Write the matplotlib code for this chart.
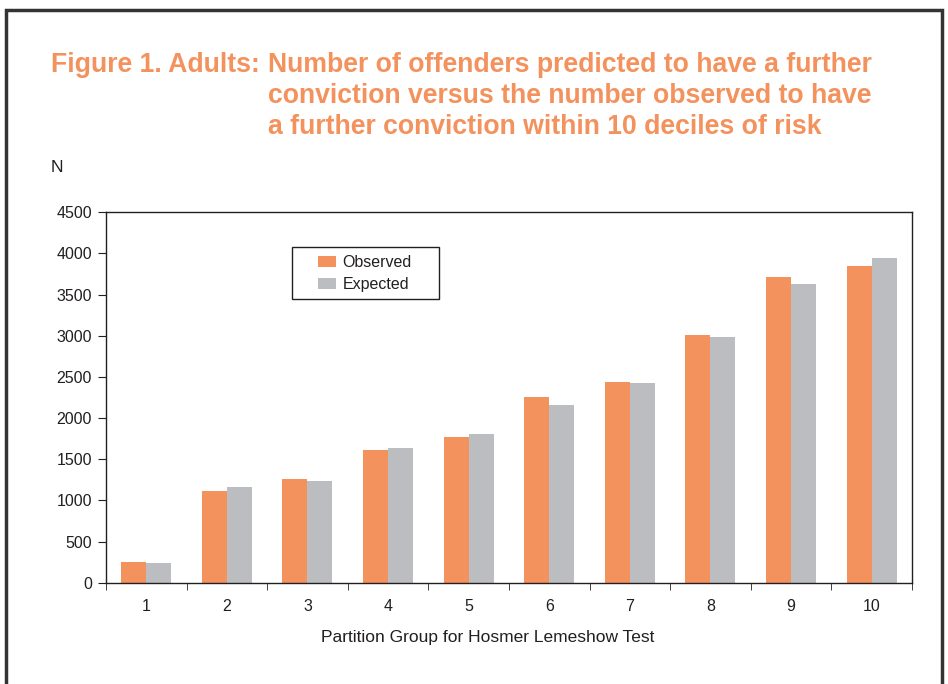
import numpy as np
import matplotlib.pyplot as plt
from matplotlib.patches import Rectangle

groups = ['1', '2', '3', '4', '5', '6', '7', '8', '9', '10']
observed = [251, 1110, 1260, 1608, 1774, 2256, 2438, 3009, 3718, 3852]
expected = [243, 1162, 1235, 1632, 1806, 2155, 2426, 2985, 3633, 3949]
yticks = [0, 500, 1000, 1500, 2000, 2500, 3000, 3500, 4000, 4500]

orange = '#F4925E'
grey = '#BCBDC0'
ink = '#231F20'

plt.rcParams['font.family'] = ['Liberation Sans', 'DejaVu Sans']

fig = plt.figure(figsize=(9.48, 6.84), dpi=100)
ax = fig.add_axes([0.1118, 0.148, 0.8502, 0.5416])

x = np.arange(len(groups))
w = 0.31
ax.bar(x - w / 2, observed, w, color=orange, label='Observed')
ax.bar(x + w / 2, expected, w, color=grey, label='Expected')

ax.set_xlim(-0.5, len(groups) - 0.5)
ax.set_ylim(0, 4500)
ax.set_yticks(yticks)
ax.set_yticklabels([str(v) for v in yticks], fontsize=11.5, color=ink)
ax.set_xticks(x)
ax.set_xticklabels(groups, fontsize=11.5, color=ink)
ax.set_xticks(np.arange(len(groups) + 1) - 0.5, minor=True)
ax.tick_params(axis='x', which='major', length=0, pad=12)
ax.tick_params(axis='x', which='minor', length=5, direction='out', color=ink)
ax.tick_params(axis='y', length=6, direction='out', color=ink, pad=4)
for s in ax.spines.values():
    s.set_color(ink)
    s.set_linewidth(1.0)

ax.set_xlabel('Partition Group for Hosmer Lemeshow Test', fontsize=12.5,
              color=ink)
ax.xaxis.set_label_coords(0.474, -0.127)

# legend: entries without frame, box drawn separately
leg = ax.legend(loc='upper left', bbox_to_anchor=(0.263, 0.885), fontsize=11.5,
                frameon=False, handlelength=1.15, handleheight=0.7,
                borderpad=0, labelspacing=0.45, handletextpad=0.4,
                borderaxespad=0)
for t in leg.get_texts():
    t.set_color(ink)
ax.add_patch(Rectangle((0.2308, 0.766), 0.1824, 0.1403, transform=ax.transAxes,
                       fill=False, edgecolor=ink, linewidth=1.0, zorder=5))

# title block
fig.text(51 / 948, 1 - 72 / 684, 'Figure 1. Adults:', fontsize=19.2,
         fontweight='bold', color=orange, va='baseline', ha='left')
title_lines = ['Number of offenders predicted to have a further',
               'conviction versus the number observed to have',
               'a further conviction within 10 deciles of risk']
for i, line in enumerate(title_lines):
    fig.text(268 / 948, 1 - (72 + 31 * i) / 684, line, fontsize=19.2,
             fontweight='bold', color=orange, va='baseline', ha='left')

fig.text(57 / 948, 1 - 168 / 684, 'N', fontsize=12.5, color=ink,
         va='center', ha='center')

# outer frame
fig.patches.append(Rectangle((6 / 948, -0.1), 936 / 948, 1.1 - 10 / 684,
                             transform=fig.transFigure, fill=False,
                             edgecolor='#333333', linewidth=2.5))

fig.savefig('out.png', dpi=100)
